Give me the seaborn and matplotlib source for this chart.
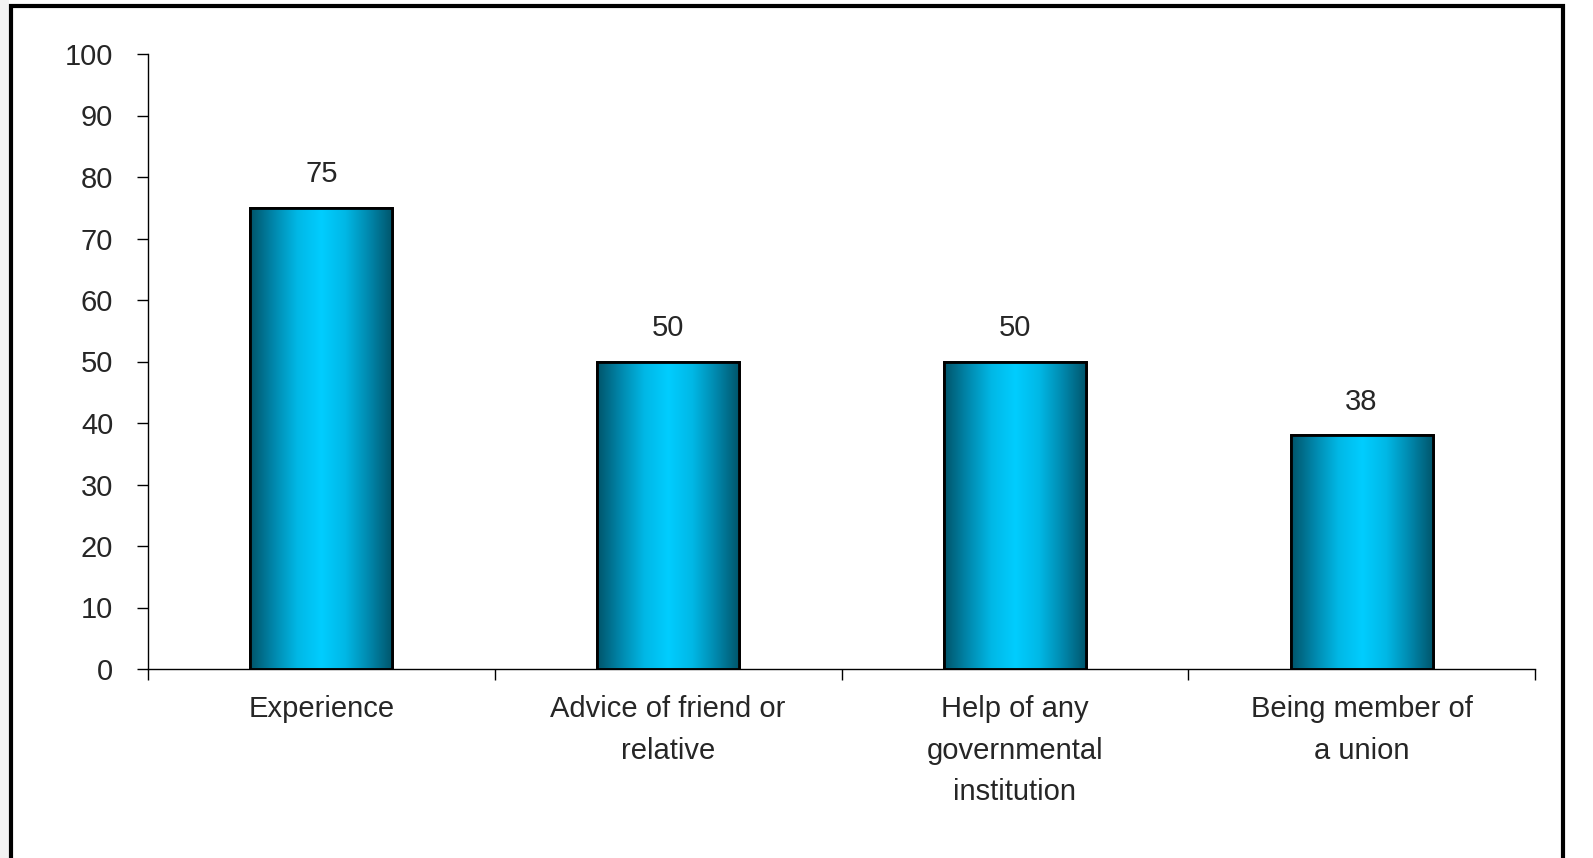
import numpy as np
import pandas as pd
import matplotlib
matplotlib.use("Agg")
import matplotlib.pyplot as plt
import seaborn as sns
from matplotlib.colors import LinearSegmentedColormap
from matplotlib.patches import Rectangle

# ---------------------------------------------------------------------------
# Data
# ---------------------------------------------------------------------------

categories = [
    "Experience",
    "Advice of friend or\nrelative",
    "Help of any\ngovernmental\ninstitution",
    "Being member of\na union",
]
values = [75, 50, 50, 38]
y_ticks = [0, 10, 20, 30, 40, 50, 60, 70, 80, 90, 100]

df = pd.DataFrame({"category": categories, "value": values})

# ---------------------------------------------------------------------------
# Plot
# ---------------------------------------------------------------------------

sns.set_style("white")
plt.rcParams["font.family"] = ["Liberation Sans", "DejaVu Sans"]

fig = plt.figure(figsize=(15.93, 8.58), dpi=100)
ax = fig.add_axes([148 / 1593, 189 / 858, 1387 / 1593, 615 / 858])

sns.barplot(data=df, x="category", y="value", width=0.41, color="#00c0ee",
            edgecolor="black", linewidth=2, ax=ax)

# cylinder-like horizontal gradient inside each bar
grad_cmap = LinearSegmentedColormap.from_list(
    "bar_grad", ["#00546a", "#0088ad", "#00b8e6", "#00cdff", "#00b8e6", "#0088ad", "#00546a"])
grad = np.linspace(0, 1, 256).reshape(1, -1)
for patch in ax.patches:
    x0, y0 = patch.get_x(), patch.get_y()
    w, h = patch.get_width(), patch.get_height()
    im = ax.imshow(grad, cmap=grad_cmap, aspect="auto",
                   extent=[x0, x0 + w, y0, y0 + h], zorder=patch.get_zorder() + 0.1)
    im.set_clip_path(patch)
    ax.add_patch(Rectangle((x0, y0), w, h, fill=False, edgecolor="black",
                           linewidth=2, zorder=patch.get_zorder() + 0.2))

ax.bar_label(ax.containers[0], labels=[str(v) for v in values],
             padding=14, fontsize=21)

ax.set_xlim(-0.5, len(categories) - 0.5)
ax.set_ylim(0, 100)
ax.set_yticks(y_ticks)
ax.set_xlabel("")
ax.set_ylabel("")

ax.tick_params(axis="y", which="major", direction="out", length=8, width=1,
               color="black", labelsize=21, pad=17, left=True)
ax.tick_params(axis="x", which="major", length=0, labelsize=21, pad=19)
ax.set_xticks(np.arange(-0.5, len(categories)), minor=True)
ax.tick_params(axis="x", which="minor", direction="out", length=8, width=1,
               color="black", bottom=True)
for lbl in ax.get_xticklabels():
    lbl.set_linespacing(1.6)

for side in ["top", "right"]:
    ax.spines[side].set_visible(False)
for side in ["left", "bottom"]:
    ax.spines[side].set_color("black")
    ax.spines[side].set_linewidth(1)

# outer frame and striped strip on the left
fig.patches.append(Rectangle((0, 0), 9 / 1593, 1, transform=fig.transFigure,
                             facecolor="#f2f2f2", edgecolor="none",
                             hatch="---", zorder=0))
fig.patches.append(Rectangle((11 / 1593, -0.01), 1552 / 1593, 1.0 - 6 / 858 + 0.01,
                             transform=fig.transFigure, fill=False,
                             edgecolor="black", linewidth=3, zorder=5))

fig.savefig("out.png", dpi=100)
